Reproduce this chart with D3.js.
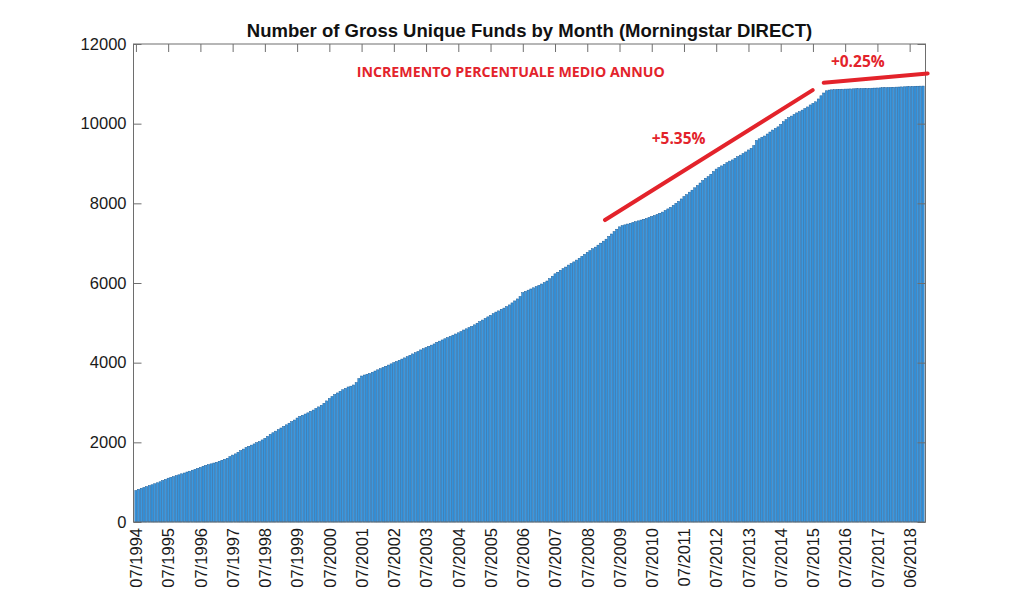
<!DOCTYPE html>
<html>
<head>
<meta charset="utf-8">
<script src="https://cdn.jsdelivr.net/npm/d3@7"></script>
<style>
  html, body { margin: 0; padding: 0; background: #ffffff; }
  svg { display: block; }
</style>
</head>
<body>
<svg id="chart" width="1024" height="589"></svg>
<script>
// ---- Data (monthly, starting 07/1994) ----
const chartTitle = "Number of Gross Unique Funds by Month (Morningstar DIRECT)";
const fundCounts = [
  790, 820, 845, 865, 890, 915, 935, 960, 985, 1010, 1040, 1070,
  1100, 1120, 1140, 1165, 1185, 1210, 1230, 1255, 1275, 1300, 1320, 1345,
  1370, 1400, 1420, 1440, 1460, 1480, 1500, 1525, 1550, 1575, 1600, 1640,
  1680, 1710, 1750, 1790, 1830, 1870, 1900, 1930, 1960, 1990, 2020, 2060,
  2100, 2150, 2200, 2240, 2280, 2320, 2360, 2400, 2440, 2480, 2520, 2560,
  2610, 2650, 2680, 2710, 2740, 2780, 2810, 2850, 2890, 2930, 2980, 3040,
  3100, 3150, 3200, 3240, 3280, 3320, 3355, 3390, 3410, 3440, 3500, 3600,
  3665, 3690, 3710, 3730, 3760, 3790, 3820, 3850, 3880, 3910, 3940, 3970,
  4000, 4030, 4060, 4090, 4120, 4150, 4185, 4220, 4250, 4280, 4320, 4350,
  4380, 4410, 4440, 4470, 4510, 4540, 4570, 4600, 4630, 4660, 4690, 4720,
  4750, 4780, 4820, 4850, 4880, 4910, 4950, 4990, 5030, 5070, 5110, 5150,
  5190, 5230, 5270, 5300, 5340, 5370, 5410, 5450, 5500, 5550, 5600, 5660,
  5756, 5790, 5820, 5850, 5880, 5910, 5940, 5975, 6010, 6050, 6110, 6170,
  6230, 6270, 6320, 6360, 6400, 6450, 6490, 6530, 6575, 6620, 6670, 6720,
  6770, 6810, 6860, 6900, 6950, 7000, 7050, 7100, 7170, 7230, 7290, 7350,
  7410, 7440, 7460, 7480, 7500, 7520, 7540, 7560, 7580, 7600, 7620, 7645,
  7670, 7695, 7720, 7750, 7780, 7820, 7860, 7900, 7950, 8000, 8050, 8110,
  8170, 8220, 8280, 8330, 8390, 8450, 8510, 8570, 8630, 8670, 8730, 8800,
  8860, 8900, 8940, 8980, 9020, 9060, 9090, 9130, 9170, 9210, 9250, 9290,
  9340, 9380, 9450, 9580, 9620, 9660, 9690, 9740, 9790, 9840, 9880, 9920,
  9980, 10050, 10100, 10150, 10190, 10230, 10270, 10300, 10340, 10380, 10420, 10470,
  10510, 10550, 10620, 10700, 10770, 10826, 10843, 10850, 10855, 10860, 10862, 10865,
  10868, 10870, 10872, 10875, 10878, 10880, 10882, 10884, 10886, 10888, 10890, 10893,
  10896, 10899, 10902, 10905, 10908, 10911, 10914, 10917, 10920, 10923, 10926, 10929,
  10932, 10935, 10938, 10940, 10942, 10944
];
const tickIndices = [0, 12, 24, 36, 48, 60, 72, 84, 96, 108, 120, 132, 144, 156, 168, 180, 192, 204, 216, 228, 240, 252, 264, 276, 288];
const tickLabels = ["07/1994","07/1995","07/1996","07/1997","07/1998","07/1999","07/2000","07/2001","07/2002","07/2003","07/2004","07/2005","07/2006","07/2007","07/2008","07/2009","07/2010","07/2011","07/2012","07/2013","07/2014","07/2015","07/2016","07/2017","06/2018"];
const yTicks = [0, 2000, 4000, 6000, 8000, 10000, 12000];

// annotations: [index, value] endpoints
const annotationHeader = "INCREMENTO PERCENTUALE MEDIO ANNUO";
const trendLines = [
  { label: "+5.35%", from: [174.6, 7580], to: [251.9, 10843], labelAt: [202, 9488] },
  { label: "+0.25%", from: [256, 11027], to: [294.7, 11262], labelAt: [268.7, 11420] }
];
const headerAt = [82.2, 11160];

// ---- Layout ----
const svg = d3.select("#chart");
const mLeft = 133.5, mRight = 925.5, mTop = 44, mBottom = 522;
const nBars = fundCounts.length;

const x = d3.scaleLinear().domain([-0.9, nBars - 1 + 0.9]).range([mLeft, mRight]);
const y = d3.scaleLinear().domain([0, 12000]).range([mBottom, mTop]);
const unit = x(1) - x(0);
const barW = unit * 0.8;

const axisColor = "#6e6e6e";
const textColor = "#1a1a1a";
const red = "#e3232b";

// bars
svg.append("g").selectAll("rect")
  .data(fundCounts)
  .join("rect")
  .attr("x", (d, i) => x(i) - barW / 2)
  .attr("y", d => y(d))
  .attr("width", barW)
  .attr("height", d => y(0) - y(d))
  .attr("fill", "#3a98e0")
  .attr("stroke", "#1a5d99")
  .attr("stroke-width", 0.5);

// axes box
const tickLen = 8;
const gL = svg.append("g").attr("transform", `translate(${mLeft},0)`)
  .call(d3.axisLeft(y).tickValues(yTicks).tickSize(-tickLen).tickPadding(7).tickFormat(d3.format("d")));
const gR = svg.append("g").attr("transform", `translate(${mRight},0)`)
  .call(d3.axisRight(y).tickValues(yTicks).tickSize(-tickLen).tickFormat(""));
const gB = svg.append("g").attr("transform", `translate(0,${mBottom})`)
  .call(d3.axisBottom(x).tickValues(tickIndices).tickSize(-tickLen).tickPadding(4).tickFormat((d, i) => tickLabels[i]));
const gT = svg.append("g").attr("transform", `translate(0,${mTop})`)
  .call(d3.axisTop(x).tickValues(tickIndices).tickSize(-tickLen).tickFormat(""));

[gL, gR, gB, gT].forEach(g => {
  g.select(".domain").remove();
  g.selectAll(".tick line").attr("stroke", axisColor).attr("stroke-width", 1);
  g.selectAll("text").attr("fill", textColor)
    .attr("font-family", "'Liberation Sans', Arial, sans-serif")
    .attr("font-size", 16.5);
});
svg.append("rect").attr("x", mLeft).attr("y", mTop).attr("width", mRight - mLeft).attr("height", mBottom - mTop)
  .attr("fill", "none").attr("stroke", axisColor).attr("stroke-width", 1);

gB.selectAll(".tick line").attr("opacity", 0.0);
gB.selectAll("text")
  .attr("transform", "rotate(-90)")
  .attr("text-anchor", "end")
  .attr("dy", "0.35em")
  .attr("x", -6)
  .attr("y", 0);

// title
svg.append("text")
  .attr("x", (mLeft + mRight) / 2).attr("y", 37)
  .attr("text-anchor", "middle")
  .attr("font-family", "'Liberation Sans', Arial, sans-serif")
  .attr("font-weight", "bold").attr("font-size", 18.5)
  .attr("fill", "#111")
  .text(chartTitle);

// annotations
const annoFont = "'Open Sans', 'Noto Sans', sans-serif";
svg.append("text")
  .attr("x", x(headerAt[0])).attr("y", y(headerAt[1]))
  .attr("font-family", annoFont).attr("font-weight", "bold").attr("font-size", 14)
  .attr("textLength", 308).attr("lengthAdjust", "spacingAndGlyphs")
  .attr("fill", red)
  .text(annotationHeader);

trendLines.forEach(t => {
  svg.append("line")
    .attr("x1", x(t.from[0])).attr("y1", y(t.from[1]))
    .attr("x2", x(t.to[0])).attr("y2", y(t.to[1]))
    .attr("stroke", red).attr("stroke-width", 4).attr("stroke-linecap", "round");
  svg.append("text")
    .attr("x", x(t.labelAt[0])).attr("y", y(t.labelAt[1]))
    .attr("text-anchor", "middle")
    .attr("font-family", annoFont).attr("font-weight", "bold").attr("font-size", 15.5)
    .attr("fill", red)
    .text(t.label);
});
</script>
</body>
</html>
